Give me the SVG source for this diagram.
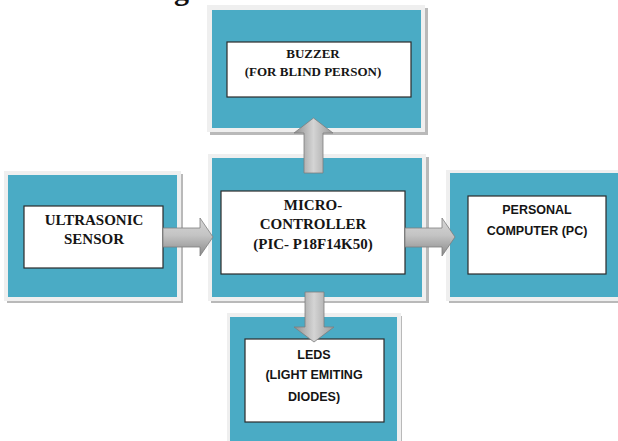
<svg xmlns="http://www.w3.org/2000/svg" width="618" height="441" viewBox="0 0 618 441">
  <defs>
    <style>
      .shadow { fill: #b9b9b9; }
      .frame { fill: #efefef; }
      .teal { fill: #4aabc5; }
      .inner { fill: #ffffff; stroke: #2b2b2b; stroke-width: 1.2; }
      .serif { font-family: "Liberation Serif", "Times New Roman", serif; font-weight: bold; fill: #151515; text-anchor: middle; }
      .sans { font-family: "Liberation Sans", Arial, sans-serif; font-weight: bold; fill: #151515; text-anchor: middle; }
      .arrow { stroke: #7d7d7d; stroke-width: 0.8; }
    </style>
    <linearGradient id="gh" x1="0" y1="0" x2="0" y2="1">
      <stop offset="0" stop-color="#d6d6d6"/>
      <stop offset="0.45" stop-color="#c4c4c4"/>
      <stop offset="1" stop-color="#8a8a8a"/>
    </linearGradient>
    <linearGradient id="gv" x1="0" y1="0" x2="1" y2="0">
      <stop offset="0" stop-color="#8e8e8e"/>
      <stop offset="0.5" stop-color="#d4d4d4"/>
      <stop offset="1" stop-color="#9a9a9a"/>
    </linearGradient>
  </defs>
  <rect width="618" height="441" fill="#ffffff"/>

  <text x="174" y="0" font-family="Liberation Serif, serif" font-weight="bold" font-size="30" fill="#111">g</text>

  <g id="buzzer">
    <rect class="shadow" x="210" y="8" width="218" height="127"/>
    <rect class="frame" x="207" y="5" width="218" height="127"/>
    <rect class="teal" x="212" y="10" width="209" height="118"/>
    <rect class="inner" x="227" y="42" width="184" height="55"/>
    <text class="serif" font-size="13" x="313" y="58">BUZZER</text>
    <text class="serif" font-size="13" x="313" y="76">(FOR BLIND PERSON)</text>
  </g>

  <g id="ultrasonic">
    <rect class="shadow" x="7" y="174" width="176" height="129"/>
    <rect class="frame" x="4" y="171" width="177" height="130"/>
    <rect class="teal" x="8" y="175" width="169" height="122"/>
    <rect class="inner" x="24" y="206" width="139" height="62"/>
    <text class="serif" font-size="15" x="94" y="225">ULTRASONIC</text>
    <text class="serif" font-size="15" x="94" y="244">SENSOR</text>
  </g>

  <g id="micro">
    <rect class="shadow" x="211" y="157" width="218" height="146"/>
    <rect class="frame" x="208" y="154" width="218" height="147"/>
    <rect class="teal" x="212" y="158" width="210" height="139"/>
    <rect class="inner" x="221" y="191" width="184" height="83"/>
    <text class="serif" font-size="15" x="313" y="210">MICRO-</text>
    <text class="serif" font-size="15" x="313" y="229">CONTROLLER</text>
    <text class="serif" font-size="15" x="313" y="249">(PIC- P18F14K50)</text>
  </g>

  <g id="pc">
    <rect class="shadow" x="449" y="173" width="172" height="130"/>
    <rect class="frame" x="446" y="170" width="175" height="131"/>
    <rect class="teal" x="450" y="173" width="171" height="124"/>
    <rect class="inner" x="468" y="196" width="138" height="78"/>
    <text class="sans" font-size="12.5" x="537" y="214">PERSONAL</text>
    <text class="sans" font-size="12.5" x="537" y="235">COMPUTER (PC)</text>
  </g>

  <g id="leds">
    <rect class="shadow" x="230" y="316" width="172" height="130"/>
    <rect class="frame" x="227" y="313" width="174" height="130"/>
    <rect class="teal" x="230" y="317" width="167" height="126"/>
    <rect class="inner" x="245" y="339" width="139" height="83"/>
    <text class="sans" font-size="12.5" x="314" y="359">LEDS</text>
    <text class="sans" font-size="12.5" x="314" y="379">(LIGHT EMITING</text>
    <text class="sans" font-size="12.5" x="314" y="401">DIODES)</text>
  </g>

  <g id="connectors">
    <path class="arrow" fill="url(#gv)" d="M304,173 L304,133 L294,133 L313.5,118 L333,133 L323,133 L323,173 Z"/>
    <path class="arrow" fill="url(#gv)" d="M305,292 L305,327 L294,327 L314,342 L334,327 L324,327 L324,292 Z"/>
    <path class="arrow" fill="url(#gh)" d="M163,228 L200,228 L200,218 L213,237 L200,256 L200,247 L163,247 Z"/>
    <path class="arrow" fill="url(#gh)" d="M405,228 L442,228 L442,218 L455,237 L442,256 L442,247 L405,247 Z"/>
  </g>
</svg>
